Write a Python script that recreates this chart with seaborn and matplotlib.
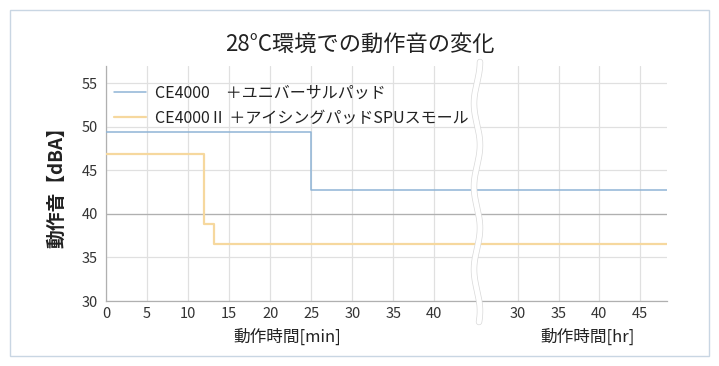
import numpy as np
import pandas as pd
import matplotlib
matplotlib.use("Agg")
import matplotlib.pyplot as plt
import seaborn as sns
from matplotlib.lines import Line2D
from matplotlib.patches import Rectangle

# ---- data ----
series_names = ["CE4000\u3000＋ユニバーサルパッド", "CE4000Ⅱ ＋アイシングパッドSPUスモール"]
# minutes segment (step "post" style)
ce4000_min_t = [0, 25, 25, 45.2]
ce4000_min_v = [49.4, 49.4, 42.7, 42.7]
ce4000ii_min_t = [0, 12, 12, 13.2, 13.2, 45.2]
ce4000ii_min_v = [46.9, 46.9, 38.8, 38.8, 36.6, 36.6]
# hours segment
ce4000_hr_t = [25, 48.3]
ce4000_hr_v = [42.7, 42.7]
ce4000ii_hr_t = [25, 48.3]
ce4000ii_hr_v = [36.6, 36.6]

y_ticks = [30, 35, 40, 45, 50, 55]
min_ticks = [0, 5, 10, 15, 20, 25, 30, 35, 40]
hr_ticks = [30, 35, 40, 45]

title = "28°C環境での動作音の変化"
ylabel = "動作音【dBA】"
xlabel_min = "動作時間[min]"
xlabel_hr = "動作時間[hr]"

colors = ["#8fb4d6", "#f6d89e"]
lws = [1.1, 1.6]

sns.set_theme(style="white")
plt.rcParams["font.family"] = ["Noto Sans CJK JP", "DejaVu Sans"]

W, H = 719, 366
fig = plt.figure(figsize=(W / 100, H / 100), dpi=100)

def fx(px):
    return px / W

def fy(py):
    return 1 - py / H

left_px, break_px, right_px = 106, 477, 667
top_px, bot_px = 66, 301
ax1 = fig.add_axes([fx(left_px), fy(bot_px), fx(break_px - left_px), (bot_px - top_px) / H])
ax2 = fig.add_axes([fx(break_px), fy(bot_px), fx(right_px - break_px), (bot_px - top_px) / H])

df_min = pd.concat([
    pd.DataFrame({"t": ce4000_min_t, "v": ce4000_min_v, "s": series_names[0]}),
    pd.DataFrame({"t": ce4000ii_min_t, "v": ce4000ii_min_v, "s": series_names[1]}),
])
df_hr = pd.concat([
    pd.DataFrame({"t": ce4000_hr_t, "v": ce4000_hr_v, "s": series_names[0]}),
    pd.DataFrame({"t": ce4000ii_hr_t, "v": ce4000ii_hr_v, "s": series_names[1]}),
])

for ax, df, xlim, xt in [(ax1, df_min, (0, 45.2), min_ticks), (ax2, df_hr, (25, 48.3), hr_ticks)]:
    for i, name in enumerate(series_names):
        sub = df[df["s"] == name]
        sns.lineplot(x=sub["t"].values, y=sub["v"].values, ax=ax, color=colors[i],
                     lw=lws[i], sort=False, estimator=None, zorder=3)
    ax.set_xlim(*xlim)
    ax.set_ylim(30, 57)
    ax.set_xticks(xt)
    ax.set_yticks(y_ticks)
    ax.grid(True, color="#e0e0e0", lw=0.9)
    ax.axhline(40, color="#b0b0b0", lw=0.9, zorder=2)
    for s in ["top", "right", "left"]:
        ax.spines[s].set_visible(False)
    ax.spines["bottom"].set_color("#b0b0b0")
    ax.spines["bottom"].set_linewidth(0.9)
    ax.tick_params(axis="x", length=0, pad=4, labelsize=10.5, colors="#333333")
    ax.set_xlabel("")
    ax.set_ylabel("")
    ax.patch.set_alpha(0)

ax1.spines["left"].set_visible(True)
ax1.spines["left"].set_color("#b0b0b0")
ax1.spines["left"].set_linewidth(0.9)
ax1.tick_params(axis="y", length=0, pad=6, labelsize=10.5, colors="#333333")
ax2.tick_params(axis="y", left=False, labelleft=False)

# legend (figure level so it spans across the break)
handles = [Line2D([0], [0], color=colors[i], lw=lws[i]) for i in range(2)]
leg = fig.legend(handles, series_names, loc="upper left", bbox_to_anchor=(fx(114), fy(85)),
                 frameon=False, fontsize=11.5, handlelength=2.0, handletextpad=0.55,
                 labelspacing=0.5, borderaxespad=0, borderpad=0)
leg.set_zorder(20)
for t in leg.get_texts():
    t.set_color("#222222")

# title and labels
fig.text(0.5, fy(44), title, ha="center", va="center", fontsize=16, color="#222222")
fig.text(fx(57), fy(183), ylabel, ha="center", va="center", rotation=90,
         fontsize=13.5, fontweight="bold", color="#222222")
fig.text(fx(287), fy(337), xlabel_min, ha="center", va="center", fontsize=12, color="#222222")
fig.text(fx(588), fy(337), xlabel_hr, ha="center", va="center", fontsize=12, color="#222222")

# wavy break
yy = np.linspace(62, 322, 300)
xx = break_px + 3.0 * np.sin((yy - 62) / 83 * 2 * np.pi + np.pi / 2)
fig.add_artist(Line2D(fx(xx), fy(yy), color="#d8d8d8", lw=4.6, transform=fig.transFigure, zorder=10))
fig.add_artist(Line2D(fx(xx), fy(yy), color="white", lw=3.6, transform=fig.transFigure, zorder=11))

# outer border
fig.add_artist(Rectangle((fx(10), fy(356)), fx(699), (356 - 10) / H, transform=fig.transFigure,
                         fill=False, edgecolor="#c9d6e3", lw=1.0, zorder=0))

fig.savefig("out.png", dpi=100, facecolor="white")
